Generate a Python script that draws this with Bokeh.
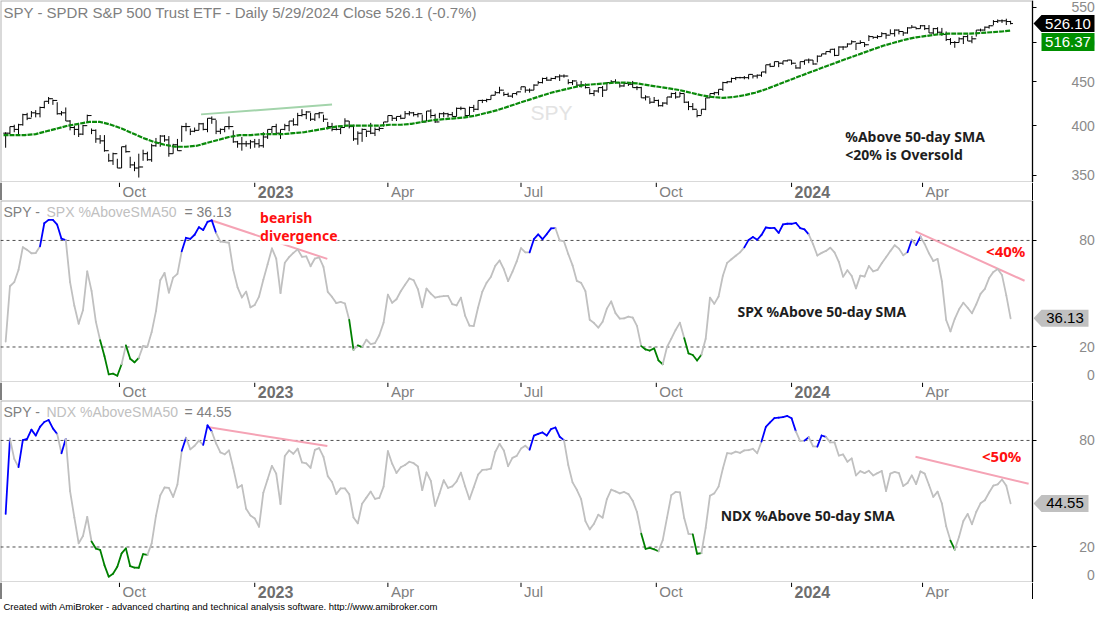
import numpy as np
import pandas as pd
from bokeh.plotting import figure
from bokeh.layouts import column
from bokeh.models import (Range1d, FixedTicker, Label, Span, BoxAnnotation,
                          NumeralTickFormatter)
from bokeh.core.properties import value
from bokeh.embed import file_html
from bokeh.resources import INLINE

# ---------------- data ----------------
HOLIDAYS = ["2022-09-05", "2022-11-24", "2022-12-26", "2023-01-02", "2023-01-16",
            "2023-02-20", "2023-04-07", "2023-05-29", "2023-06-19", "2023-07-04",
            "2023-09-04", "2023-11-23", "2023-12-25", "2024-01-01", "2024-01-15",
            "2024-02-19", "2024-03-29", "2024-05-27"]
FIRST_DAY, LAST_DAY = "2022-07-18", "2024-05-29"

# SPY two-day bars
spy_close = [392, 399, 396, 401, 412, 408, 414, 413, 420, 427,
             430, 428, 413, 414, 405, 398, 396, 391, 400, 411,
             395, 386, 384, 374, 364, 371, 357, 378, 373, 360,
             357, 358, 371, 365, 379, 382, 389, 385, 371, 380,
             374, 399, 399, 394, 395, 402, 396, 408, 407, 394,
             396, 399, 399, 383, 381, 381, 381, 383, 381, 379,
             388, 396, 399, 392, 396, 400, 405, 401, 411, 412,
             415, 407, 413, 414, 407, 399, 396, 396, 398, 405,
             399, 386, 392, 396, 394, 392, 396, 397, 404, 411,
             408, 410, 408, 413, 414, 412, 413, 404, 416, 411,
             404, 413, 413, 412, 410, 419, 419, 411, 420, 418,
             428, 428, 429, 434, 437, 440, 435, 433, 436, 438,
             444, 440, 440, 446, 449, 454, 452, 454, 456, 457,
             457, 449, 451, 446, 446, 443, 436, 439, 443, 440,
             449, 450, 449, 445, 448, 447, 443, 443, 431, 432,
             426, 428, 422, 425, 432, 436, 432, 436, 426, 421,
             418, 411, 418, 431, 436, 437, 441, 449, 450, 454,
             455, 455, 455, 459, 457, 458, 462, 471, 469, 475,
             473, 476, 477, 473, 467, 475, 477, 477, 472, 482,
             485, 488, 491, 483, 494, 494, 498, 501, 499, 500,
             497, 508, 507, 508, 512, 510, 512, 517, 515, 513,
             520, 521, 519, 523, 519, 513, 519, 514, 511, 504,
             500, 500, 505, 508, 502, 505, 517, 517, 521, 523,
             529, 530, 530, 529, 526.10]
spy_high = [393, 399, 401, 402, 413, 414, 416, 417, 421, 427,
            432, 429, 426, 416, 420, 406, 400, 401, 401, 412,
            397, 396, 390, 390, 371, 372, 366, 378, 380, 368,
            363, 371, 375, 373, 381, 387, 390, 390, 389, 381,
            386, 400, 403, 397, 398, 403, 403, 408, 410, 406,
            397, 399, 410, 395, 384, 388, 384, 385, 386, 386,
            393, 396, 399, 402, 396, 402, 405, 408, 414, 418,
            416, 414, 413, 415, 412, 404, 403, 400, 398, 408,
            405, 401, 394, 397, 395, 403, 398, 399, 404, 411,
            411, 410, 412, 416, 416, 415, 414, 412, 416, 418,
            413, 414, 415, 414, 415, 420, 421, 419, 421, 423,
            428, 429, 430, 434, 439, 444, 438, 437, 436, 438,
            444, 444, 442, 447, 451, 455, 456, 455, 457, 459,
            459, 453, 452, 450, 451, 448, 442, 440, 443, 445,
            449, 452, 453, 449, 449, 448, 451, 445, 444, 434,
            431, 432, 429, 426, 432, 437, 438, 438, 436, 427,
            425, 417, 418, 431, 436, 438, 441, 450, 451, 455,
            456, 456, 457, 459, 458, 459, 462, 471, 473, 475,
            475, 476, 477, 477, 471, 475, 477, 479, 477, 483,
            485, 488, 491, 492, 495, 495, 499, 503, 499, 503,
            500, 510, 508, 510, 514, 513, 518, 518, 518, 515,
            521, 524, 521, 524, 524, 524, 520, 521, 520, 515,
            506, 502, 507, 509, 511, 509, 517, 519, 522, 524,
            531, 532, 532, 533, 530]
spy_low = [377, 391, 393, 390, 400, 406, 409, 409, 409, 419,
           424, 423, 412, 411, 405, 395, 390, 388, 390, 403,
           391, 382, 381, 373, 363, 360, 357, 357, 372, 357,
           354, 348, 364, 364, 363, 378, 378, 383, 368, 371,
           374, 383, 394, 390, 393, 395, 395, 393, 402, 391,
           391, 393, 396, 382, 377, 374, 378, 376, 377, 377,
           377, 386, 392, 391, 386, 395, 394, 400, 400, 410,
           407, 405, 405, 408, 404, 396, 394, 395, 391, 399,
           397, 384, 380, 383, 388, 391, 389, 394, 399, 404,
           405, 405, 407, 408, 411, 410, 409, 403, 405, 408,
           403, 408, 409, 409, 410, 410, 417, 409, 411, 415,
           417, 425, 426, 429, 434, 436, 433, 432, 431, 434,
           440, 437, 437, 440, 447, 448, 451, 451, 453, 451,
           455, 447, 446, 444, 443, 442, 435, 433, 437, 432,
           440, 449, 448, 443, 444, 445, 443, 440, 431, 428,
           424, 425, 421, 421, 423, 431, 430, 432, 425, 417,
           417, 409, 412, 417, 431, 434, 434, 439, 448, 449,
           452, 454, 453, 453, 454, 454, 456, 460, 468, 469,
           468, 471, 475, 471, 466, 466, 471, 473, 471, 474,
           482, 484, 486, 482, 483, 490, 494, 498, 490, 498,
           494, 502, 505, 505, 508, 505, 511, 508, 511, 509,
           512, 520, 518, 519, 517, 513, 511, 511, 509, 502,
           497, 493, 500, 498, 502, 499, 508, 515, 516, 519,
           524, 527, 527, 524, 525]
# 50-day SMA, every fifth session plus the last one
sma50 = [390, 390, 390, 391, 394, 397, 400, 402, 404, 404,
         401, 397, 392, 387, 383, 380, 378, 378, 379, 382,
         385, 388, 390, 390, 391, 391, 391, 392, 393, 395,
         397, 399, 400, 400, 400, 400, 401, 401, 402, 404,
         406, 407, 408, 409, 411, 414, 417, 421, 425, 429,
         433, 437, 440, 443, 446, 447, 448, 449, 449, 448,
         446, 444, 442, 440, 437, 434, 432, 431, 432, 434,
         437, 441, 446, 451, 456, 461, 466, 471, 476, 481,
         486, 491, 496, 500, 504, 507, 509, 511, 512, 512,
         512, 513, 514, 515, 516.37]
spx_pct = [23, 54.2, 56.5, 63.5, 76.2, 74.7, 72.8, 72.9, 76.7, 89.7,
           91.6, 91.6, 88.9, 81.0, 80.2, 56.5, 43.2, 33.1, 40.7, 62.6,
           51.6, 34.3, 23.8, 14.9, 4.6, 5, 3.8, 10.3, 20.9, 13.4,
           11.4, 13.9, 20.6, 20.2, 28.4, 40.2, 57.6, 61.7, 50.6, 59.1,
           61.2, 73.9, 81.5, 80.9, 83.2, 87.5, 85.9, 90.5, 91.3, 84.2,
           79.3, 79.1, 78.7, 63.4, 53.6, 47.9, 51.2, 42.3, 43.7, 48.4,
           57.9, 66.6, 75.5, 69.8, 50.3, 67.4, 70.6, 73, 75, 70.8,
           71, 65.5, 69.8, 70.4, 65.1, 51, 48.2, 44.7, 45.4, 44.5,
           35.3, 18.4, 20.9, 19.9, 24.1, 21.6, 22.2, 26.6, 33.7, 49.5,
           44.9, 46.9, 51.4, 55.1, 58.6, 57.6, 52.5, 42.4, 52.9, 50.1,
           47.8, 48.4, 48.6, 48.8, 44.1, 43.4, 47.8, 37.6, 32, 31.8,
           42.2, 51.2, 56.2, 59.6, 65.7, 68.7, 63.8, 57.1, 62.3, 68.2,
           75.7, 73.3, 73.3, 80.7, 83.4, 80.7, 83.6, 86.8, 87, 80,
           79.5, 72.4, 66, 57.2, 56.1, 51.5, 35.3, 33.5, 30.9, 34.2,
           41.6, 45.7, 39.1, 36, 36.1, 37.1, 36.6, 31.9, 20.5, 18.6,
           18, 19.2, 12.5, 10.3, 20, 24.7, 29.6, 33.7, 25, 16.4,
           15.5, 12.4, 15.6, 24.6, 47.8, 44.3, 48.4, 60.1, 67.4, 69.4,
           71.4, 73.3, 76.1, 80.3, 82, 80.4, 83.1, 87.3, 86.9, 87.1,
           84.3, 89, 89.4, 89.4, 89.9, 87, 86.2, 83.4, 77.9, 71.5,
           73, 74.1, 75.9, 73.3, 68, 59.6, 63.2, 60, 53, 60.2,
           59.7, 65.6, 62.6, 63.4, 67.2, 70.5, 74, 77.3, 75.4, 71.7,
           73.4, 80.4, 77.4, 82.2, 77.9, 72.7, 68.4, 69.6, 57, 35.2,
           28.8, 35.9, 41.2, 44.9, 42.1, 39, 44, 49.9, 52.7, 58.8,
           62.3, 63.9, 60.5, 49.1, 36.13]
ndx_pct = [38.6, 81, 69.6, 65, 80.2, 80.9, 86.1, 82.8, 87.7, 90.4,
           91.5, 86.8, 83.6, 72.8, 80.9, 51.5, 36.5, 22.1, 26.2, 36.9,
           23.1, 19.1, 18.4, 9.8, 3.3, 4.9, 8.9, 16.4, 19.2, 9.2,
           8.4, 8.3, 16, 15.5, 22, 37.5, 49.1, 53.5, 53.3, 48.2,
           55.2, 74.2, 81.5, 75, 77, 79.9, 77.5, 88.5, 85, 78.3,
           73.3, 72.2, 74.4, 64.5, 53.4, 54.8, 41.5, 37.7, 36.1, 31.4,
           50.6, 58.1, 65.7, 61.3, 44.2, 71.2, 74.4, 72.5, 75.4, 67.6,
           67.1, 64.6, 74.7, 75.7, 70.8, 59.9, 56.6, 49.8, 53, 53,
           49.7, 36.6, 33.3, 44.4, 47.8, 51.2, 47.1, 47.6, 54, 74,
           66.9, 61.7, 64.9, 66.2, 68, 67.2, 65.3, 52, 62, 57.2,
           43.2, 50, 57.6, 53.3, 54.1, 56.9, 61.9, 54.1, 46.9, 53.7,
           60.7, 63.4, 63.6, 64.2, 73.5, 78.1, 74.4, 65.5, 70.2, 71.3,
           75.4, 77, 74.8, 82.7, 83.7, 84.5, 82.8, 86.4, 87.3, 82.1,
           80.2, 66.2, 56.4, 52.2, 46.9, 34.6, 29.9, 33.1, 38.2, 36.5,
           47, 52.3, 51.3, 50.2, 51, 49.8, 46.1, 39.7, 27.5, 19,
           19.5, 18.7, 17.6, 23.9, 36.5, 49.2, 51, 50.8, 36.3, 27.4,
           27.1, 16.2, 16.5, 30.8, 48.9, 50.2, 54, 64.2, 72.9, 72.6,
           73.7, 73, 74.4, 74.5, 75.3, 72.8, 79.4, 87.6, 90.2, 92.6,
           92.8, 93.1, 93.8, 92.5, 85.1, 79.6, 79.9, 81.8, 76.7, 76.5,
           82.8, 82, 78.9, 78.9, 71.5, 72.1, 68, 69.9, 60.3, 62.7,
           61.6, 62.9, 60.3, 61.6, 62.8, 51.5, 61.3, 62.3, 61.6, 54.3,
           56, 60.3, 55.4, 62.6, 61.3, 54.9, 48.2, 51.2, 44.5, 31.7,
           23.6, 18.5, 25.8, 34.6, 38.6, 32.8, 39.7, 44.6, 46.3, 50.7,
           54.6, 55.3, 58, 54.5, 44.55]

PCT_GUIDES = [20, 80]
PCT_TICKS = [0, 20, 80]
SPY_TICKS = [350, 400, 450, 500, 550]

# hand-drawn trend lines (session number, level)
spy_trend_day, spy_trend_val = [92, 153], [412.3, 423.3]
spx_trend1_day, spx_trend1_val = [96.4, 150.8], [91.5, 69.6]
spx_trend2_day, spx_trend2_val = [424.7, 475.5], [85.1, 57.3]
ndx_trend1_day, ndx_trend1_val = [95.7, 150.8], [87.4, 76.9]
ndx_trend2_day, ndx_trend2_val = [424.7, 477.4], [70.8, 55.6]

TITLE1 = "SPY - SPDR S&P 500 Trust ETF - Daily 5/29/2024 Close 526.1 (-0.7%)"
FOOTER = ("Created with AmiBroker - advanced charting and technical analysis "
          "software. http://www.amibroker.com")

# ---------------- layout ----------------
FWT = 1097            # full frame width (plot + price scale)
FWA = 1032            # frame left edge -> price-scale line
H, RH = 182, 18
X0, X1 = -1.4, 479.2
PPX = FWA / (X1 - X0)
XE = X0 + FWT / PPX
Y1LO, Y1HI = 343.4, 559.7
PPY_LN = H / np.log(Y1HI / Y1LO)
Y2HI = 102.5
PPY = H / Y2HI
FONT = "Liberation Sans"
TFONT = "Noto Sans"

dates = pd.bdate_range(FIRST_DAY, LAST_DAY, freq="C", holidays=HOLIDAYS)
tick_idx, tick_lab, tick_bold = [], [], []
for i in range(1, len(dates)):
    d, p = dates[i], dates[i - 1]
    if d.month != p.month and d.month in (1, 4, 7, 10):
        tick_idx.append(i)
        tick_bold.append(d.month == 1)
        tick_lab.append(str(d.year) if d.month == 1 else d.strftime("%b"))

xr = Range1d(X0, XE)
xb = np.arange(len(spy_close)) * 2 + 1
x_sma = list(range(0, len(dates) - 4, 5))[: len(sma50) - 1] + [len(dates) - 1]


def dx(px):
    return px / PPX


def base_fig(h, yr, **kw):
    f = figure(frame_width=FWT, frame_height=h, x_range=xr, y_range=yr,
               x_axis_location=None, toolbar_location=None, output_backend="svg",
               min_border=0, title=None, outline_line_color=None,
               background_fill_color="white", border_fill_color="white", **kw)
    f.grid.visible = False
    return f


def frame_box(f, lo, hi):
    f.add_layout(BoxAnnotation(left=X0, right=X1, bottom=lo, top=hi, fill_alpha=0,
                               fill_color=None, line_color="black", line_width=2))


def style_yaxis(ax, standoff):
    ax.fixed_location = X1
    ax.axis_line_color = "black"
    ax.major_tick_out = 4
    ax.major_tick_in = 0
    ax.minor_tick_out = 0
    ax.minor_tick_in = 0
    ax.major_tick_line_color = "black"
    ax.major_label_text_font = FONT
    ax.major_label_text_font_size = "14px"
    ax.major_label_text_color = "#8a8a8a"
    ax.major_label_standoff = standoff


def label(f, x, y, text, color="#808080", size="14px", font=FONT, style="normal",
          align="left", bg=None, baseline="middle"):
    f.add_layout(Label(x=x, y=y, text=text, text_color=color, text_font=font,
                       text_font_size=size, text_font_style=style, text_align=align,
                       text_baseline=baseline, background_fill_color=bg))


def tag(f, yc, y_up, y_dn, text, fill, tcolor, right_px, arrow=True):
    tip, bl, br = X1 + dx(1), X1 + dx(9), X1 + dx(right_px)
    if arrow:
        xs, ys = [tip, bl, br, br, bl], [yc, y_up, y_up, y_dn, y_dn]
    else:
        xs, ys = [bl, br, br, bl], [y_up, y_up, y_dn, y_dn]
    f.patch(xs, ys, fill_color=fill, line_color=None, level="overlay")
    f.text(x=[(bl + br) / 2], y=[yc], text=[text], text_color=tcolor,
           text_font=value(FONT), text_font_size="15px", text_align="center",
           text_baseline="middle", level="overlay")


# ---- panel 1: SPY ----
p1 = base_fig(H, Range1d(Y1LO, Y1HI), y_axis_type="log", y_axis_location="right")
frame_box(p1, Y1LO, Y1HI)
style_yaxis(p1.yaxis[0], 35)
p1.yaxis[0].ticker = FixedTicker(ticks=SPY_TICKS, minor_ticks=[])
p1.yaxis[0].formatter = NumeralTickFormatter(format="0")

label(p1, 245.4, 414.3, "SPY", color="#e3e3e3", size="21px")
p1.line(spy_trend_day, spy_trend_val, color="#a3d4ab", line_width=2)
prev_close = [spy_close[0]] + spy_close[:-1]
p1.segment(x0=xb, y0=spy_low, x1=xb, y1=spy_high, color="black", line_width=1)
p1.segment(x0=xb, y0=spy_close, x1=xb + 1.1, y1=spy_close, color="black", line_width=1)
p1.segment(x0=xb - 1.1, y0=prev_close, x1=xb, y1=prev_close, color="black", line_width=1)
p1.line(x_sma, sma50, color="#0a8a0a", line_width=2.2, line_dash="5 1")

k1 = np.exp(1.0 / PPY_LN)
label(p1, X0 + dx(3), Y1HI / k1 ** 12, TITLE1, size="15px")
label(p1, 392, 389, "%Above 50-day SMA", color="#1e1e1e", font=TFONT, style="bold")
label(p1, 392, 370, "<20% is Oversold", color="#1e1e1e", font=TFONT, style="bold")

c = spy_close[-1]
tag(p1, c, c * k1 ** 8.5, c / k1 ** 8.5, f"{c:.2f}", "black", "white", 62)
cg = c / k1 ** 18.5
tag(p1, cg, cg * k1 ** 9, cg / k1 ** 9, f"{sma50[-1]:.2f}", "#008f00", "white", 62,
    arrow=False)


# ---- %above panels ----
def pct_panel(vals, name, trend1, trend2, note, note_xy, pct_txt, pct_xy):
    f = base_fig(H, Range1d(0, Y2HI), y_axis_location="right")
    frame_box(f, 0, Y2HI)
    ax = f.yaxis[0]
    style_yaxis(ax, 35)
    ax.ticker = FixedTicker(ticks=PCT_TICKS, minor_ticks=[])
    ax.major_label_overrides = {0: "\u2007\u20070", 20: "\u200720", 80: "\u200780"}
    f.segment(x0=[X0] * len(PCT_GUIDES), x1=[X1] * len(PCT_GUIDES), y0=PCT_GUIDES,
              y1=PCT_GUIDES, line_color="#505050", line_dash="3 3", line_width=1)

    v = np.asarray(vals, dtype=float)
    cols = np.where(v[1:] > 80, "#0000ff", np.where(v[1:] < 20, "#008000", "#c0c0c0"))
    f.line(trend1[0], trend1[1], color="#f5a3b5", line_width=2)
    f.line(trend2[0], trend2[1], color="#f5a3b5", line_width=2)
    f.segment(x0=xb[:-1], y0=v[:-1], x1=xb[1:], y1=v[1:], line_color=list(cols),
              line_width=1.8, line_cap="round")

    ytop = Y2HI - 11 / PPY
    label(f, X0 + dx(3), ytop, "SPY -")
    label(f, X0 + dx(46), ytop, name, color="#c0c0c0")
    label(f, X0 + dx(184), ytop, f"= {vals[-1]:.2f}")
    label(f, note_xy[0], note_xy[1], note, color="#1e1e1e", font=TFONT, style="bold")
    label(f, pct_xy[0], pct_xy[1], pct_txt, color="#ff1010", font=TFONT, style="bold",
          size="15px")
    h = 8.5 / PPY
    tag(f, vals[-1], vals[-1] + h, vals[-1] - h, f"{vals[-1]:.2f}", "#c0c0c0", "black", 56)
    return f


p2 = pct_panel(spx_pct, "SPX %AboveSMA50", (spx_trend1_day, spx_trend1_val),
               (spx_trend2_day, spx_trend2_val), "SPX %Above 50-day SMA", (341.8, 40.2),
               "<40%", (457.6, 74.2))
label(p2, 119.5, 92.9, "bearish", color="#ff1010", font=TFONT, style="bold", bg="white")
label(p2, 119.5, 82.9, "divergence", color="#ff1010", font=TFONT, style="bold", bg="white")

p3 = pct_panel(ndx_pct, "NDX %AboveSMA50", (ndx_trend1_day, ndx_trend1_val),
               (ndx_trend2_day, ndx_trend2_val), "NDX %Above 50-day SMA", (334, 37.9),
               "<50%", (455.7, 71.1))


# ---- date rows ----
def date_row(h):
    r = figure(frame_width=FWT, frame_height=h, x_range=xr, y_range=Range1d(0, 1),
               x_axis_location=None, y_axis_location=None, toolbar_location=None,
               output_backend="svg", min_border=0, title=None, outline_line_color=None)
    r.grid.visible = False
    r.add_layout(Span(location=X0, dimension="height", line_color="black", line_width=2))
    r.add_layout(Span(location=X1, dimension="height", line_color="black", line_width=1))
    r.segment(x0=tick_idx, y0=1, x1=tick_idx, y1=1 - 4.5 / h, color="black", line_width=1)
    mx = [t for t, b in zip(tick_idx, tick_bold) if not b]
    ml = [t for t, b in zip(tick_lab, tick_bold) if not b]
    yx = [t for t, b in zip(tick_idx, tick_bold) if b]
    yl = [t for t, b in zip(tick_lab, tick_bold) if b]
    yc = 1 - 9 / h
    r.text(x=mx, y=[yc] * len(mx), text=ml, text_font=value(FONT), text_font_size="15px",
           text_color="#808080", text_baseline="middle", text_align="left", x_offset=3)
    r.text(x=yx, y=[yc] * len(yx), text=yl, text_font=value(FONT), text_font_size="16px",
           text_font_style="bold", text_color="#6e6e6e", text_baseline="middle",
           text_align="left", x_offset=3)
    return r


r1, r2, r3 = date_row(RH), date_row(RH), date_row(17)

foot = figure(frame_width=FWT, frame_height=12, x_range=xr, y_range=Range1d(0, 1),
              x_axis_location=None, y_axis_location=None, toolbar_location=None,
              output_backend="svg", min_border=0, title=None, outline_line_color=None)
foot.grid.visible = False
label(foot, X0 + dx(3), 0.45, FOOTER, color="#000000", size="9.5px")

layout = column(p1, r1, p2, r2, p3, r3, foot, spacing=0)
open("out.html", "w").write(file_html(layout, INLINE))
